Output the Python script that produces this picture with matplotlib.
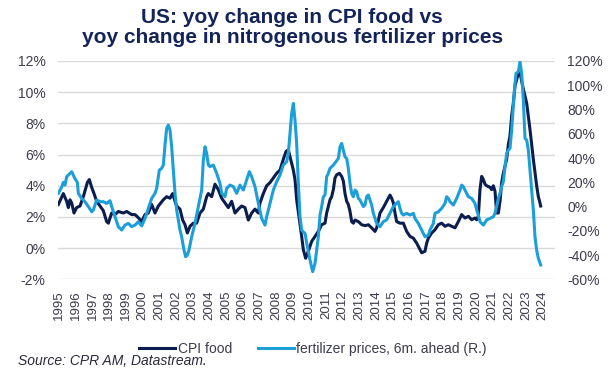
import matplotlib
matplotlib.use('Agg')
import matplotlib.pyplot as plt
import numpy as np

plt.rcParams['font.family'] = ['Liberation Sans', 'DejaVu Sans']

# CPI food, yoy % (left axis) - decimal year / value
cpi_year = [1994.94, 1995.24, 1995.44, 1995.54, 1995.64, 1995.74, 1995.88, 1996.04, 1996.24, 1996.44,
            1996.68, 1996.8, 1996.94, 1997.08, 1997.24, 1997.44, 1997.64, 1997.84, 1997.94, 1998.14,
            1998.34, 1998.54, 1998.84, 1999.04, 1999.34, 1999.54, 1999.74, 1999.94, 2000.14, 2000.34,
            2000.54, 2000.74, 2000.94, 2001.24, 2001.44, 2001.64, 2001.8, 2001.94, 2002.04, 2002.24,
            2002.4, 2002.54, 2002.68, 2002.84, 2003.04, 2003.24, 2003.44, 2003.64, 2003.84, 2003.94,
            2004.14, 2004.34, 2004.54, 2004.74, 2004.94, 2005.14, 2005.34, 2005.54, 2005.74, 2005.94,
            2006.14, 2006.34, 2006.54, 2006.74, 2006.94, 2007.04, 2007.24, 2007.44, 2007.64, 2007.84,
            2008.04, 2008.24, 2008.44, 2008.6, 2008.74, 2008.88, 2009.04, 2009.14, 2009.24, 2009.38,
            2009.54, 2009.64, 2009.78, 2009.94, 2010.14, 2010.34, 2010.54, 2010.74, 2010.94, 2011.04,
            2011.24, 2011.34, 2011.44, 2011.54, 2011.64, 2011.8, 2011.94, 2012.04, 2012.14, 2012.24,
            2012.34, 2012.44, 2012.54, 2012.64, 2012.74, 2012.94, 2013.14, 2013.34, 2013.54, 2013.74,
            2013.94, 2014.04, 2014.24, 2014.44, 2014.64, 2014.84, 2014.94, 2015.04, 2015.14, 2015.24,
            2015.44, 2015.64, 2015.84, 2016.04, 2016.24, 2016.44, 2016.64, 2016.74, 2016.94, 2017.04,
            2017.14, 2017.34, 2017.54, 2017.74, 2017.94, 2018.14, 2018.34, 2018.54, 2018.74, 2018.94,
            2019.14, 2019.34, 2019.54, 2019.74, 2019.94, 2020.04, 2020.14, 2020.24, 2020.34, 2020.44,
            2020.54, 2020.64, 2020.84, 2020.94, 2021.04, 2021.14, 2021.24, 2021.34, 2021.44, 2021.54,
            2021.64, 2021.84, 2021.94, 2022.04, 2022.14, 2022.24, 2022.34, 2022.44, 2022.54, 2022.64,
            2022.74, 2022.84, 2023.04, 2023.24, 2023.44, 2023.64, 2023.74, 2023.84, 2023.88]
cpi_food = [2.8, 3.5, 3.0, 2.6, 3.1, 2.9, 2.25, 2.6, 2.7, 3.3,
            4.2, 4.4, 3.9, 3.5, 3.0, 2.7, 2.4, 1.7, 1.6, 2.25,
            2.15, 2.35, 2.25, 2.35, 2.15, 2.15, 1.95, 1.7, 2.15, 2.25,
            2.8, 2.25, 2.7, 3.1, 3.3, 3.2, 3.5, 3.0, 2.7, 2.5,
            1.8, 1.5, 0.97, 1.4, 1.6, 1.6, 2.25, 2.5, 3.3, 3.5,
            3.3, 4.1, 3.75, 3.2, 2.9, 2.6, 3.0, 2.25, 2.5, 2.7,
            2.6, 1.8, 2.25, 2.5, 2.25, 2.9, 3.5, 4.0, 4.2, 4.5,
            4.8, 5.0, 5.7, 6.2, 6.3, 5.7, 5.0, 4.4, 3.1, 2.0,
            0.75, -0.1, -0.65, -0.2, 0.43, 0.75, 1.07, 1.5, 1.6, 2.25,
            3.1, 3.3, 3.75, 4.5, 4.7, 4.8, 4.6, 4.3, 3.5, 3.0,
            2.8, 2.36, 1.7, 1.6, 1.8, 1.7, 1.5, 1.44, 1.5, 1.3,
            1.07, 1.3, 2.25, 2.6, 3.0, 3.4, 3.2, 2.9, 2.25, 1.7,
            1.6, 1.6, 1.07, 0.75, 0.64, 0.32, -0.1, -0.3, -0.2, 0.32,
            0.64, 0.97, 1.18, 1.5, 1.6, 1.4, 1.5, 1.4, 1.3, 1.7,
            2.15, 1.93, 2.04, 1.82, 1.93, 1.82, 2.04, 3.75, 4.6, 4.4,
            4.1, 4.0, 3.9, 3.75, 4.0, 3.65, 2.25, 2.25, 3.0, 4.2,
            4.8, 5.7, 6.65, 7.2, 8.5, 9.3, 10.4, 10.8, 11.2, 11.3,
            10.7, 10.2, 9.3, 7.6, 5.7, 4.0, 3.3, 2.9, 2.7]

# nitrogenous fertilizer prices, yoy %, shifted 6 months ahead (right axis)
fert_year = [1994.94, 1995.14, 1995.24, 1995.34, 1995.44, 1995.64, 1995.74, 1995.94, 1996.08, 1996.14,
             1996.34, 1996.54, 1996.74, 1996.94, 1997.04, 1997.24, 1997.44, 1997.64, 1997.84, 1998.04,
             1998.14, 1998.34, 1998.54, 1998.74, 1998.94, 1999.14, 1999.34, 1999.54, 1999.74, 1999.94,
             2000.14, 2000.34, 2000.54, 2000.74, 2000.84, 2001.0, 2001.14, 2001.24, 2001.34, 2001.44,
             2001.54, 2001.64, 2001.74, 2001.84, 2001.94, 2002.04, 2002.14, 2002.24, 2002.34, 2002.48,
             2002.58, 2002.68, 2002.78, 2002.94, 2003.14, 2003.34, 2003.54, 2003.64, 2003.74, 2003.84,
             2003.94, 2004.04, 2004.24, 2004.44, 2004.64, 2004.74, 2004.94, 2005.04, 2005.24, 2005.44,
             2005.64, 2005.84, 2006.04, 2006.24, 2006.4, 2006.54, 2006.74, 2006.94, 2007.14, 2007.34,
             2007.44, 2007.64, 2007.84, 2008.04, 2008.24, 2008.44, 2008.64, 2008.74, 2008.84, 2008.94,
             2009.04, 2009.14, 2009.24, 2009.34, 2009.44, 2009.54, 2009.64, 2009.74, 2009.84, 2010.04,
             2010.2, 2010.34, 2010.44, 2010.54, 2010.64, 2010.74, 2010.84, 2010.94, 2011.04, 2011.14,
             2011.24, 2011.34, 2011.44, 2011.6, 2011.74, 2011.84, 2011.94, 2012.04, 2012.14, 2012.24,
             2012.34, 2012.44, 2012.54, 2012.64, 2012.74, 2012.84, 2012.94, 2013.04, 2013.14, 2013.24,
             2013.34, 2013.44, 2013.54, 2013.64, 2013.74, 2013.84, 2014.04, 2014.24, 2014.44, 2014.64,
             2014.84, 2015.04, 2015.24, 2015.34, 2015.44, 2015.54, 2015.64, 2015.84, 2016.04, 2016.24,
             2016.34, 2016.54, 2016.74, 2016.94, 2017.14, 2017.24, 2017.44, 2017.54, 2017.74, 2017.94,
             2018.14, 2018.24, 2018.34, 2018.44, 2018.64, 2018.84, 2019.04, 2019.14, 2019.24, 2019.34,
             2019.54, 2019.74, 2019.94, 2020.04, 2020.14, 2020.24, 2020.34, 2020.44, 2020.64, 2020.84,
             2021.04, 2021.14, 2021.24, 2021.34, 2021.44, 2021.54, 2021.64, 2021.74, 2021.84, 2021.94,
             2022.04, 2022.14, 2022.24, 2022.34, 2022.4, 2022.54, 2022.64, 2022.74, 2022.84, 2022.94,
             2023.04, 2023.14, 2023.24, 2023.34, 2023.44, 2023.54, 2023.64, 2023.74, 2023.88]
fert_prices = [10.9, 16, 20, 17.7, 24.6, 27.4, 28.7, 23, 20, 10.9,
               6.7, 4, 0, -4.3, -3, 5.4, 4, 4, 2.6, 4.8,
               0, -8.4, -16.6, -19.4, -15.3, -13.9, -16.6, -15.3, -12.5, -16,
               -9.8, -1.5, 6.7, 10.9, 15, 30, 31.5, 34.2, 50.7, 64.5,
               67.2, 63, 49.3, 30, 10.9, -2.9, -11, -19.4, -24.9, -35.9,
               -41.4, -40, -35.9, -24.9, -13.9, 0, 13.6, 38.3, 49.3, 43.8,
               34.2, 32.9, 34.2, 27.4, 19.1, 10.9, 8.1, 15, 17.7, 16.4,
               10.9, 17.7, 13.6, 21.9, 28.7, 24.6, 16.4, 2.6, -9.8, -15.3,
               -8.4, 2.6, 13.6, 20.5, 26, 34.2, 37, 43.8, 60.3, 76.8,
               85, 71.3, 52, 19, -8.4, -19.4, -21, -22, -30, -44,
               -53.7, -47, -36, -25, -7, 0, 8, 9.5, 24.6, 27.4,
               31.5, 32.9, 34.2, 37, 39.7, 49.3, 52, 46.6, 41, 39.7,
               31.5, 19.1, 10.9, 8.1, 13.6, 12.2, 6.7, 5.4, 2.6, 0,
               1.2, 8.1, 9.5, 5.4, 1.2, -5.6, -13.9, -16.6, -12.5, -11,
               -5.6, 0, 2.6, 4, -1.5, -5.6, -7, -5.6, -7, -5.6,
               -9.8, -13.9, -19.4, -24.9, -23.5, -19.4, -13.9, -5.6, -4.3, -1.5,
               2.6, 8.1, 6.7, 4, 1.2, 6.7, 13.6, 17.7, 16.4, 13.6,
               8.1, 6.7, 2.6, -2.9, -7, -12.5, -13.9, -15.3, -11, -9.8,
               -8.4, -5.6, 0, 6.7, 10.9, 16.4, 20.5, 32.9, 43.8, 46.6,
               48, 63, 83.7, 101.6, 109.8, 111.2, 119.4, 109.8, 87.8, 56.2,
               54.9, 46.6, 30, 13.6, -2.9, -24.9, -35.9, -42.7, -48.2]

years = list(range(1995, 2025))
left_ticks = [-2, 0, 2, 4, 6, 8, 10, 12]
right_ticks = [-60, -40, -20, 0, 20, 40, 60, 80, 100, 120]

navy = '#0b1d4d'
sky = '#1c9fd9'
txt = '#3c3c4c'

fig = plt.figure(figsize=(6.14, 3.79), dpi=100)
ax = fig.add_axes([58 / 614, 1 - 279.3 / 379, 497 / 614, 218.3 / 379])
ax2 = ax.twinx()

ax.plot(cpi_year, cpi_food, color=navy, linewidth=2.2, label='CPI food', zorder=3)
ax2.plot(fert_year, fert_prices, color=sky, linewidth=2.2, label='fertilizer prices, 6m. ahead (R.)', zorder=3)

# axes limits / ticks
ax.set_xlim(1994.92, 2024.74)
ax.set_ylim(-2, 12)
ax2.set_ylim(-60, 120)
ax.set_xticks(years)
ax.set_xticklabels([str(y) for y in years], rotation=90, fontsize=9.5, color=txt)
ax.set_yticks(left_ticks)
ax.set_yticklabels(['{:d}%'.format(t) for t in left_ticks], fontsize=10, color=txt)
ax2.set_yticks(right_ticks)
ax2.set_yticklabels(['{:d}%'.format(t) for t in right_ticks], fontsize=10, color=txt)
ax.tick_params(axis='both', length=0, pad=9)
ax.tick_params(axis='x', pad=8)
ax2.tick_params(axis='y', length=0, pad=9)

ax.grid(axis='y', color='#d9d9d9', linewidth=1.0)
ax.set_axisbelow(True)
for a in (ax, ax2):
    for s in a.spines.values():
        s.set_visible(False)

# title, legend, source
fig.text(0.476, 0.927, 'US: yoy change in CPI food vs\nyoy change in nitrogenous fertilizer prices',
         ha='center', va='center', fontsize=15, fontweight='bold', color='#14245a', linespacing=1.1)

h1, l1 = ax.get_legend_handles_labels()
h2, l2 = ax2.get_legend_handles_labels()
fig.legend(h1 + h2, l1 + l2, loc='center', bbox_to_anchor=(0.51, 1 - 349 / 379), ncol=2, frameon=False,
           fontsize=10, handlelength=2.6, handletextpad=0.15, columnspacing=1.9, labelcolor=txt)

fig.text(18 / 614, 1 - 361 / 379, 'Source: CPR AM, Datastream.', fontsize=10, style='italic',
         color='#2a2a3a', va='center', ha='left')

fig.savefig('out.png', dpi=100)
